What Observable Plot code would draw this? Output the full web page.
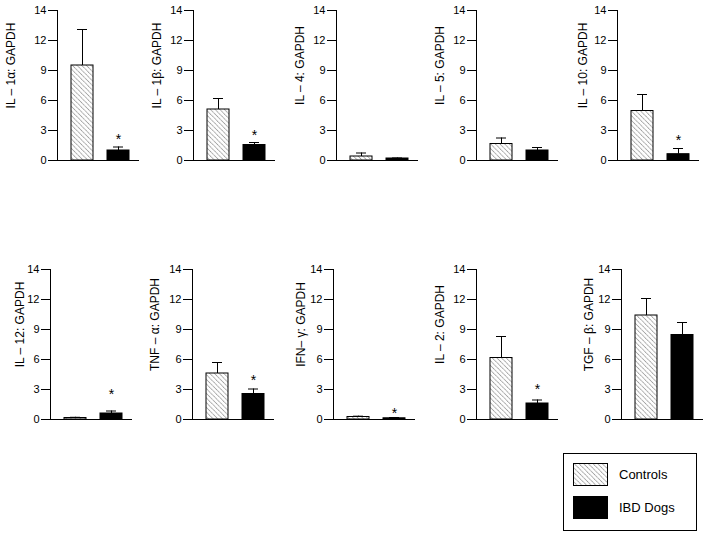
<!DOCTYPE html>
<html>
<head>
<meta charset="utf-8">
<script src="https://cdn.jsdelivr.net/npm/d3@7"></script>
<script src="https://cdn.jsdelivr.net/npm/@observablehq/plot@0.6"></script>
<style>
  html, body { margin: 0; padding: 0; background: #fff; }
  body { width: 704px; height: 536px; position: relative; overflow: hidden;
         font-family: "Liberation Sans", Arial, Helvetica, sans-serif; }
  .panel { position: absolute; }
  .panel svg { overflow: visible; }
  #legend { position: absolute; left: 563px; top: 453px; width: 134px; height: 78px;
            border: 1px solid #000; box-sizing: border-box; }
  .lrow { position: absolute; left: 9px; display: flex; align-items: center; }
  .lrow span { margin-left: 11px; font-size: 13px; color: #000; }
</style>
</head>
<body>
<svg width="0" height="0" style="position:absolute">
  <defs>
    <pattern id="hatch" patternUnits="userSpaceOnUse" width="3.3" height="3.3" patternTransform="rotate(-45)">
      <rect width="3.3" height="3.3" fill="#fff"></rect>
      <line x1="0.5" y1="0" x2="0.5" y2="3.3" stroke="#555" stroke-width="0.6" stroke-dasharray="1.2 0.6"></line>
    </pattern>
  </defs>
</svg>
<div id="root"></div>
<div id="legend">
  <div class="lrow" style="top:9px"><svg width="35" height="23"><rect x="0.5" y="0.5" width="34" height="22" fill="url(#hatch)" stroke="#000"></rect></svg><span>Controls</span></div>
  <div class="lrow" style="top:42px"><svg width="35" height="23"><rect x="0.5" y="0.5" width="34" height="22" fill="#000" stroke="#000"></rect></svg><span>IBD Dogs</span></div>
</div>
<script>
// ---- data ----
const cytokines = ["IL – 1α", "IL – 1β", "IL – 4", "IL – 5", "IL – 10", "IL – 12", "TNF – α", "IFN– γ", "IL – 2", "TGF – β"];
const groups = ["Controls", "IBD Dogs"];
const controlMean = [9.5, 5.1, 0.4, 1.65, 4.95, 0.15, 4.6, 0.25, 6.15, 10.4];
const controlErr  = [13.1, 6.2, 0.75, 2.25, 6.6, 0.22, 5.7, 0.33, 8.3, 12.1];
const ibdMean     = [1.0, 1.55, 0.2, 1.0, 0.63, 0.6, 2.55, 0.12, 1.6, 8.45];
const ibdErr      = [1.35, 1.8, 0.25, 1.3, 1.2, 0.85, 3.05, 0.2, 1.95, 9.7];
const starLevel   = [2.4, 2.8, null, null, 2.3, 2.8, 4.2, 0.95, 3.3, null];
const tickValues  = [0, 3, 6, 9, 12, 15];
const tickLabels  = ["0", "3", "6", "9", "12", "14"];

// ---- layout ----
const axisX = [57, 193, 336, 476, 617, 50, 192, 333, 476, 621];
const zeroY = [160, 160, 160, 160, 160, 419, 419, 419, 419, 419];
const labelOff = [46, 36, 36, 36, 34, 30, 37, 32, 36, 32];
const ML = 60, MT = 10, PH = 150, MB = 4, PW = 81, MR = 2;

const root = document.getElementById("root");
cytokines.forEach((name, i) => {
  const data = [
    {g: groups[0], v: controlMean[i], e: controlErr[i]},
    {g: groups[1], v: ibdMean[i], e: ibdErr[i]}
  ];
  const stars = starLevel[i] == null ? [] : [{g: groups[1], s: starLevel[i]}];
  const chart = Plot.plot({
    width: ML + PW + MR,
    height: MT + PH + MB,
    marginLeft: ML, marginRight: MR, marginTop: MT, marginBottom: MB,
    style: {fontFamily: '"Liberation Sans", Arial, Helvetica, sans-serif', fontSize: "11px", color: "#000", background: "transparent"},
    x: {domain: groups, paddingInner: 0.378, paddingOuter: 0.284, align: 0.62, axis: null},
    y: {domain: [0, 15]},
    marks: [
      Plot.barY(data.filter(d => d.g === groups[0]), {x: "g", y: "v", fill: "url(#hatch)", stroke: "#000", strokeWidth: 1}),
      Plot.barY(data.filter(d => d.g === groups[1]), {x: "g", y: "v", fill: "#000", stroke: "#000", strokeWidth: 1}),
      Plot.ruleX(data, {x: "g", y1: "v", y2: "e", stroke: "#000", strokeWidth: 1}),
      Plot.tickY(data, {x: "g", y: "e", insetLeft: 6, insetRight: 6, stroke: "#000", strokeWidth: 1}),
      Plot.axisY({ticks: tickValues, tickFormat: d => tickLabels[tickValues.indexOf(d)], tickSize: 9, tickPadding: 2, label: null, stroke: "#000"}),
      Plot.frame({anchor: "left", stroke: "#000"}),
      Plot.frame({anchor: "bottom", stroke: "#000"}),
      Plot.text(stars, {x: "g", y: "s", text: () => "*", fontSize: 14, dy: 3.5, fill: "#000"}),
      Plot.text([name + ": GAPDH"], {frameAnchor: "left", textAnchor: "middle", rotate: -90, dx: -labelOff[i], dy: -20, fontSize: 12, fill: "#000", text: d => d})
    ]
  });
  const div = document.createElement("div");
  div.className = "panel";
  div.style.left = (axisX[i] - ML) + "px";
  div.style.top = (zeroY[i] - PH - MT) + "px";
  div.appendChild(chart);
  root.appendChild(div);
});
</script>
</body>
</html>
